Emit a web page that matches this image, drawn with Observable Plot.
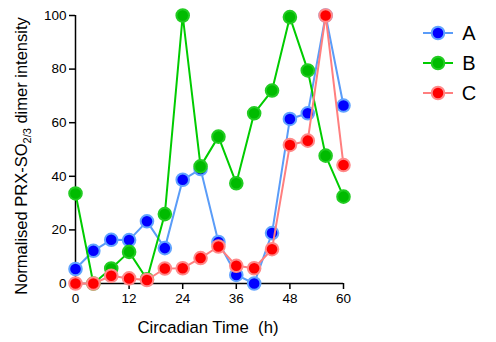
<!DOCTYPE html>
<html>
<head>
<meta charset="utf-8">
<script src="https://cdn.jsdelivr.net/npm/d3@7"></script>
<script src="https://cdn.jsdelivr.net/npm/@observablehq/plot@0.6"></script>
<style>
  body { margin: 0; background: #fff; }
  #chart { position: relative; width: 496px; height: 342px; }
</style>
</head>
<body>
<div id="chart"></div>
<script>
const times   = [0, 4, 8, 12, 16, 20, 24, 28, 32, 36, 40, 44, 48, 52, 56, 60];
const seriesA = [5.4, 12.2, 16.3, 16.2, 23.2, 13.2, 38.7, 42.7, 15.5, 3.2, 0, 18.8, 61.4, 63.5, 100, 66.4];
const seriesB = [33.6, 0, 5.6, 11.8, 1.6, 25.9, 100, 43.7, 54.8, 37.4, 63.5, 72, 99.4, 79.5, 47.7, 32.4];
const seriesC = [0, 0, 2.9, 1.9, 1.3, 5.6, 5.7, 9.5, 13.8, 6.6, 5.7, 12.8, 51.7, 53.3, 100, 44.2];
const seriesNames = ["A", "B", "C"];
const lineColors = ["#5a9cf8", "#00cc00", "#ff7f7f"];
const fillColors = ["#0000ff", "#00bb00", "#ff0000"];
const rimColors  = ["#62a4ff", "#22cc22", "#ff8a8a"];
const xTicks = [0, 12, 24, 36, 48, 60];
const yTicks = [0, 20, 40, 60, 80, 100];
const xTitle = "Circadian Time\u00a0 (h)";

const allSeries = [seriesA, seriesB, seriesC];
const tables = allSeries.map(vals => times.map((t, i) => ({t, v: vals[i]})));

const font = "'Liberation Sans', Arial, Helvetica, sans-serif";

const marks = [];
tables.forEach((tab, k) => {
  marks.push(Plot.line(tab, {x: "t", y: "v", stroke: lineColors[k], strokeWidth: 2}));
  marks.push(Plot.dot(tab, {x: "t", y: "v", r: 6.3, fill: fillColors[k], stroke: rimColors[k], strokeWidth: 2}));
});

const plot = Plot.plot({
  width: 496,
  height: 342,
  marginLeft: 75,
  marginRight: 153,
  marginTop: 15,
  marginBottom: 59,
  style: {fontFamily: font, background: "#fff", color: "#000", overflow: "visible"},
  x: {domain: [0, 60]},
  y: {domain: [0, 100]},
  marks: [
    Plot.axisX({ticks: xTicks, tickSize: 6, tickPadding: 4, fontSize: 13.5, strokeWidth: 1.5, label: null}),
    Plot.axisY({ticks: yTicks, tickSize: 6, tickPadding: 3, fontSize: 13.5, strokeWidth: 1.5, label: null}),
    Plot.ruleX([0], {y1: 0, y2: 100, stroke: "#000", strokeWidth: 1.5}),
    Plot.ruleY([0], {x1: 0, x2: 60, stroke: "#000", strokeWidth: 1.5}),
    ...marks
  ]
});

document.getElementById("chart").appendChild(plot);

const svg = d3.select(plot);

// x-axis title
svg.append("text")
  .attr("x", 208).attr("y", 333)
  .attr("text-anchor", "middle")
  .attr("font-family", font)
  .attr("font-size", 16.7)
  .attr("fill", "#000")
  .text(xTitle);

// y-axis title with subscript
const yt = svg.append("text")
  .attr("transform", "translate(27,156) rotate(-90)")
  .attr("text-anchor", "middle")
  .attr("font-family", font)
  .attr("font-size", 16.5)
  .attr("fill", "#000");
yt.append("tspan").text("Normalised PRX-SO");
yt.append("tspan").attr("font-size", 11).attr("dy", 4).text("2/3");
yt.append("tspan").attr("dy", -4).text(" dimer intensity");

// legend
const leg = svg.append("g").attr("font-family", font);
seriesNames.forEach((name, k) => {
  const cy = 33 + k * 30;
  leg.append("line").attr("x1", 423).attr("x2", 453).attr("y1", cy).attr("y2", cy)
    .attr("stroke", lineColors[k]).attr("stroke-width", 2);
  leg.append("circle").attr("cx", 438).attr("cy", cy).attr("r", 6.3)
    .attr("fill", fillColors[k]).attr("stroke", rimColors[k]).attr("stroke-width", 2);
  leg.append("text").attr("x", 469).attr("y", cy).attr("dy", "0.36em")
    .attr("font-size", 20).attr("fill", "#000").text(name);
});
</script>
</body>
</html>
